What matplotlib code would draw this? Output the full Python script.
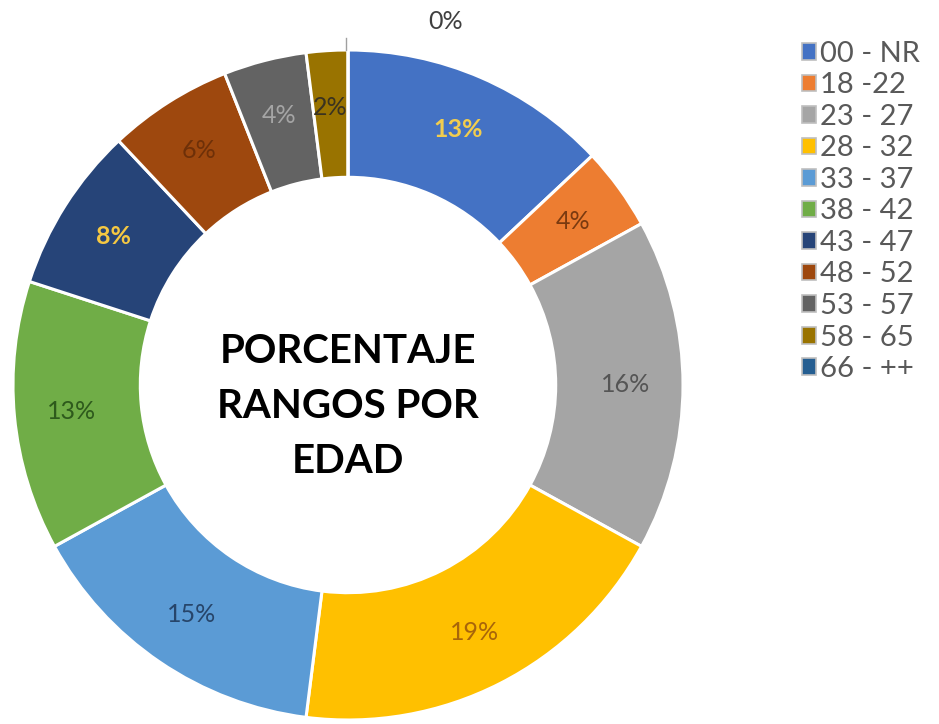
import matplotlib
matplotlib.use("Agg")
import matplotlib.pyplot as plt
from matplotlib.patches import Patch
import numpy as np

plt.rcParams["font.family"] = ["Lato", "DejaVu Sans"]

rangos = ["00 - NR", "18 -22", "23 - 27", "28 - 32", "33 - 37", "38 - 42",
          "43 - 47", "48 - 52", "53 - 57", "58 - 65", "66 - ++"]
porcentajes = [13, 4, 16, 19, 15, 13, 8, 6, 4, 2, 0]
colores = ["#4472C4", "#ED7D31", "#A5A5A5", "#FFC000", "#5B9BD5", "#70AD47",
           "#264478", "#9E480E", "#636363", "#997300", "#255E91"]
color_texto = ["#F2CD4E", "#7A3A10", "#555555", "#A8650A", "#27456A", "#2E5A1C",
               "#F5C842", "#6E3008", "#A5A5A5", "#3A3320", "#404040"]
negrita = [True, False, False, False, False, False, True, False, False, False, False]

W, H = 939, 724
fig = plt.figure(figsize=(W / 100, H / 100), dpi=100)
cx, cy, r = 348, 385, 335
ax = fig.add_axes([(cx - r) / W, (H - cy - r) / H, 2 * r / W, 2 * r / H])

wedges, _ = ax.pie(porcentajes, colors=colores, startangle=90, counterclock=False,
                   radius=1, wedgeprops=dict(width=0.38, edgecolor="white", linewidth=2.2))
ax.set_xlim(-1, 1); ax.set_ylim(-1, 1); ax.set_aspect("equal"); ax.axis("off")

acum = 0
for i, v in enumerate(porcentajes):
    mid = 90 - (acum + v / 2) / 100 * 360
    acum += v
    if v == 0:
        continue
    rr = 0.83
    ax.text(rr * np.cos(np.radians(mid)), rr * np.sin(np.radians(mid)), f"{v}%",
            ha="center", va="center", fontsize=18, color=color_texto[i],
            fontweight="bold" if negrita[i] else "normal")

# etiqueta del 0% (66 - ++) fuera del anillo
ax.plot([-0.005, -0.005], [1.0, 1.035], color="#A0A0A0", lw=1, clip_on=False)
ax.text(0.29, 1.085, f"{porcentajes[-1]}%", ha="center", va="center", fontsize=18,
        color="#404040", clip_on=False)

ax.text(0, -0.065, "PORCENTAJE\nRANGOS POR\nEDAD", ha="center", va="center",
        fontsize=29, fontweight="bold", color="black", linespacing=1.6)

handles = [Patch(facecolor=c, edgecolor="#BFBFBF", linewidth=1.2) for c in colores]
fig.legend(handles, rangos, loc="upper left", bbox_to_anchor=(790 / W, 1 - 29 / H),
           frameon=False, fontsize=21, labelcolor="#595959", handlelength=0.5,
           handleheight=0.5, handletextpad=0.12, labelspacing=0.19, borderaxespad=0)

fig.savefig("out.png", dpi=100)
